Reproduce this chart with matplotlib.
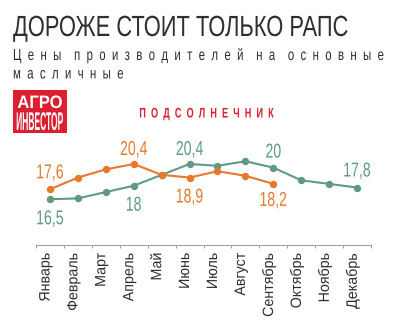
import matplotlib
matplotlib.use('Agg')
import matplotlib.pyplot as plt
import matplotlib.patheffects as pe
from matplotlib.patches import Rectangle
from matplotlib.transforms import Affine2D, ScaledTranslation

# цены производителей, подсолнечник
months = ['Январь', 'Февраль', 'Март', 'Апрель', 'Май', 'Июнь', 'Июль',
          'Август', 'Сентябрь', 'Октябрь', 'Ноябрь', 'Декабрь']
prices_prev = [16.5, 16.6, 17.3, 18.0, 19.2, 20.4, 20.2, 20.7, 20.0, 18.6, 18.2, 17.8]
prices_curr = [17.6, 18.9, 19.8, 20.4, 19.2, 18.9, 19.6, 19.1, 18.2]

# подписи значений: (индекс месяца, сдвиг по вертикали в px)
labels_prev = [(0, -25), (3, -25), (5, 9), (8, 10), (11, 11)]
labels_curr = [(0, 11), (3, 9), (5, -25), (8, -22)]

TEAL = '#5e9a86'
ORANGE = '#e8792c'
RED = '#dc1f30'
DARK = '#2e2e33'
GRAY = '#a0a0a0'

W, H = 411, 330
plt.rcParams['font.family'] = ['Liberation Sans', 'DejaVu Sans']


class Tall(pe.AbstractPathEffect):
    """Вытягивает текст по вертикали от базовой линии (узкое начертание)."""

    def __init__(self, sy):
        super().__init__()
        self.sy = sy

    def draw_path(self, renderer, gc, tpath, affine, rgbFace=None):
        renderer.draw_path(gc, tpath, Affine2D().scale(1, self.sy) + affine, rgbFace)


def narrow(size, squeeze):
    # кегль с учётом сжатия и эффект, возвращающий высоту букв
    return dict(fontsize=size * squeeze, path_effects=[Tall(1 / squeeze)])


def spaced(s, gap=2, word=4):
    return (' ' * word).join((' ' * gap).join(w) for w in s.split(' '))


def fx(x):
    return x / W


def fy(y):
    return 1 - y / H


fig = plt.figure(figsize=(W / 100, H / 100), dpi=100)
fig.patch.set_facecolor('white')

# заголовок и подзаголовок
fig.text(fx(13), fy(36), 'ДОРОЖЕ СТОИТ ТОЛЬКО РАПС', color=DARK,
         ha='left', va='baseline', **narrow(21, 0.75))
fig.text(fx(13), fy(60), spaced('Цены производителей на основные'),
         color=DARK, ha='left', va='baseline', **narrow(11.5, 0.715))
fig.text(fx(13), fy(78.5), spaced('масличные'),
         color=DARK, ha='left', va='baseline', **narrow(11.5, 0.715))

# логотип
fig.add_artist(Rectangle((fx(13), fy(133)), 54 / W, 43 / H,
                         transform=fig.transFigure, facecolor=RED, edgecolor='none'))
fig.text(fx(40), fy(108), 'АГРО', fontweight='bold', color='white',
         ha='center', va='baseline', **narrow(13, 0.92))
fig.text(fx(40), fy(130), 'ИНВЕСТОР', fontweight='bold', color='white',
         ha='center', va='baseline', **narrow(18.5, 0.33))

fig.text(fx(206), fy(117.5), spaced('ПОДСОЛНЕЧНИК'), fontweight='bold',
         color=RED, ha='center', va='baseline', **narrow(10, 0.66))

# график
ax = fig.add_axes([fx(36), fy(245), 335 / W, 105 / H])
ax.set_facecolor('none')
x_prev = range(len(prices_prev))
x_curr = range(len(prices_curr))
ax.plot(x_prev, prices_prev, color=TEAL, lw=1.5, marker='o', ms=4.3, zorder=3)
ax.plot(x_curr, prices_curr, color=ORANGE, lw=1.5, marker='o', ms=4.3, zorder=4)

for values, marks, color in ((prices_prev, labels_prev, TEAL),
                             (prices_curr, labels_curr, ORANGE)):
    for i, dy in marks:
        ax.annotate(f'{values[i]:g}'.replace('.', ','), (i, values[i]),
                    xytext=(0, dy * 0.72), textcoords='offset points',
                    ha='center', va='baseline', color=color, **narrow(14.5, 0.7))

ax.set_xlim(-0.5, 11.5)
ax.set_ylim(11.45, 23.05)
ax.set_yticks([])
for side in ('left', 'right', 'top'):
    ax.spines[side].set_visible(False)
ax.spines['bottom'].set_color(GRAY)
ax.spines['bottom'].set_linewidth(0.8)

ax.set_xticks(range(12), months, rotation=90, ha='center', va='top')
ax.set_xticks([i - 0.5 for i in range(13)], minor=True)
ax.tick_params(axis='x', which='major', length=0, pad=5.5, labelsize=10.8 * 0.95,
               labelcolor=DARK)
ax.tick_params(axis='x', which='minor', length=2.5, width=0.7, color=GRAY,
               direction='out')
shift = ScaledTranslation(-4.5 / 100, 0, fig.dpi_scale_trans)
for lbl in ax.get_xticklabels():
    lbl.set_transform(lbl.get_transform() + shift)
    lbl.set_path_effects([Tall(1 / 0.95)])

fig.savefig('out.png', dpi=100, facecolor='white')
